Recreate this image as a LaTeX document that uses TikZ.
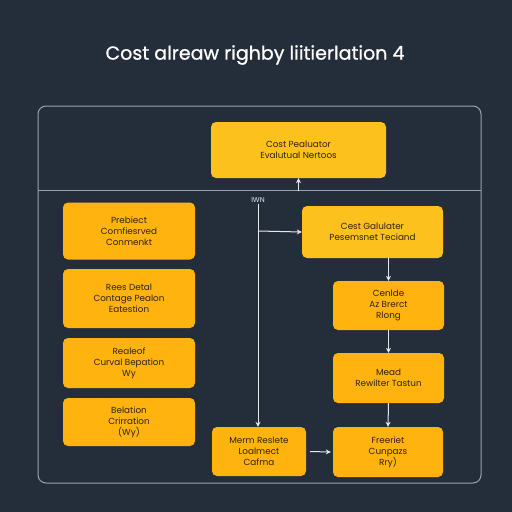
\documentclass[tikz,border=0pt]{standalone}
\usepackage{fontspec}
\setmainfont{Poppins}
\newfontfamily\titlefont[FakeBold=0.8]{Poppins}
\usetikzlibrary{arrows.meta}
\definecolor{bg}{HTML}{242E3A}
\definecolor{boxtop}{HTML}{FDC11D}
\definecolor{boxor}{HTML}{FFB30F}
\definecolor{frame}{HTML}{9AA4AE}
\definecolor{ink}{HTML}{2E2204}
\definecolor{wire}{HTML}{E6E8EA}
\tikzset{
  stepbox/.style={rectangle, rounded corners=5pt, fill=boxor, text=ink, align=center,
    font=\fontsize{8.8}{10.8}\selectfont, inner sep=2pt},
  flow/.style={draw=wire, line width=1pt, -{Stealth[length=5pt,width=5pt]}}
}
\begin{document}
\begin{tikzpicture}[x=1pt, y=-1pt]
		\fill[bg] (0,0) rectangle (512,512);
		\useasboundingbox (0,0) rectangle (512,512);
		
		% Titel
		\node[text=white, font=\titlefont\fontsize{19}{22}\selectfont] (title) at (255,55) {Cost alreaw righby liitierlation 4};
		
		% Rahmen
		\draw[frame, line width=1pt, rounded corners=8pt] (38,106) rectangle (481,483);
		\draw[frame, line width=1pt] (38,190) -- (481,190);
		
		% Oben
		\node[stepbox, fill=boxtop, minimum width=175pt, minimum height=56pt] (eval) at (298.5,150) {Cost Pealuator\\Evalutual Nertoos};
		
		% Linke Spalte
		\node[stepbox, minimum width=132pt, minimum height=57pt] (prob) at (129,231) {Prebiect\\Comfiesrved\\Conmenkt};
		\node[stepbox, minimum width=132pt, minimum height=59pt] (rees) at (129,298.5) {Rees Detal\\Contage Pealon\\Eatestion};
		\node[stepbox, minimum width=132pt, minimum height=50pt] (real) at (129,363) {Realeof\\Curval Bepation\\Wy};
		\node[stepbox, minimum width=132pt, minimum height=48pt] (bela) at (129,422) {Belation\\Crirration\\(Wy)};
		
		% Rechte Spalte
		\node[stepbox, fill=boxtop, minimum width=141pt, minimum height=52pt] (calc) at (372.5,232) {Cest Galulater\\Pesemsnet Teciand};
		\node[stepbox, minimum width=111pt, minimum height=49pt] (cenl) at (388.5,305.5) {Cenlde\\Az Brerct\\Rlong};
		\node[stepbox, minimum width=111pt, minimum height=50pt] (mead) at (388.5,378) {Mead\\Rewilter Tastun};
		\node[stepbox, minimum width=110pt, minimum height=50pt] (free) at (388,452) {Freeriet\\Cunpazs\\Rry)};
		\node[stepbox, minimum width=94pt, minimum height=49pt] (merm) at (259,451.5) {Merm Reslete\\Loalmect\\Cafma};
		
		% Verbindungen
		\node[text=wire, font=\fontsize{7}{8}\selectfont, inner sep=1pt] (iwn) at (258,200) {IWN};
		\coordinate (split) at (258,231);
		\coordinate (up) at (298.5,191);
		\coordinate (m1) at (310,451.5);
		\draw[flow] (iwn.south) -- (merm.north -| iwn.south);
		\draw[flow] (split) -- (calc.west);
		\draw[flow] (up) -- (eval.south);
		\draw[flow] (calc.south -| cenl.north) -- (cenl.north);
		\draw[flow] (cenl.south) -- (mead.north);
		\draw[flow] (mead.south) -- (free.north);
		\draw[flow] (m1) -- ([xshift=-2pt]free.west);
		
	\end{tikzpicture}
\end{document}
